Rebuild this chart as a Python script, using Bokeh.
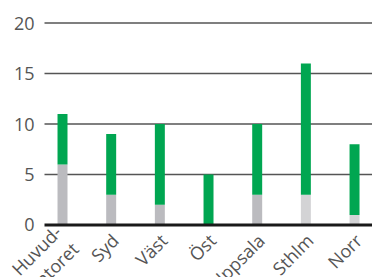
import math
from bokeh.plotting import figure
from bokeh.models import ColumnDataSource, Range1d, FixedTicker
from bokeh.core.properties import value
from bokeh.embed import file_html
from bokeh.resources import INLINE

categories = ["Huvud-\nkontoret", "Syd", "Väst", "Öst", "Uppsala", "Sthlm", "Norr"]
grey_values = [6, 3, 2, 0, 3, 3, 1]
green_values = [5, 6, 8, 5, 7, 13, 7]
grey_colors = ["#BBBBBF", "#BBBBBF", "#BBBBBF", "#BBBBBF", "#BBBBBF", "#D3D3D5", "#D3D3D5"]
y_ticks = [0, 5, 10, 15, 20]

# layout (category slots are 1 unit wide, centred on i + 0.5)
X_START, X_END = -0.774, 6.869
GRID_X0 = 0.13

xpos = [i + 0.5 for i in range(len(categories))]
totals = [g + r for g, r in zip(grey_values, green_values)]
source = ColumnDataSource(data=dict(x=xpos, cat=categories, grey=grey_values,
                                    total=totals, grey_color=grey_colors))

FONT = "Open Sans"
TXT = "#555555"

p = figure(width=372, height=277, output_backend="svg", toolbar_location=None,
           x_range=Range1d(X_START, X_END), y_range=Range1d(-5.2, 21.44),
           min_border_left=0, min_border_right=0, min_border_top=8, min_border_bottom=0)
p.outline_line_color = None
p.background_fill_color = "white"
p.border_fill_color = "white"
p.xaxis.visible = False
p.xgrid.visible = False
p.ygrid.visible = False

# horizontal grid lines
grid_ticks = [t for t in y_ticks if t > 0]
p.segment(x0=[GRID_X0] * len(grid_ticks), x1=[X_END] * len(grid_ticks),
          y0=grid_ticks, y1=grid_ticks, line_color="#555555", line_width=1.6)

p.vbar(x="x", bottom=0, top="grey", width=0.205, source=source,
       fill_color="grey_color", line_color=None)
p.vbar(x="x", bottom="grey", top="total", width=0.205, source=source,
       fill_color="#00A651", line_color=None)

# baseline
p.segment(x0=[GRID_X0], x1=[X_END], y0=[0], y1=[0], line_color="#1a1a1a", line_width=3)

p.yaxis.ticker = FixedTicker(ticks=y_ticks)
p.yaxis.axis_line_color = None
p.yaxis.major_tick_line_color = None
p.yaxis.minor_tick_line_color = None
p.yaxis.major_label_standoff = -40
p.yaxis.major_label_text_font = FONT
p.yaxis.major_label_text_font_size = "18px"
p.yaxis.major_label_text_color = TXT

p.text(x="x", y=-1.2, text="cat", source=source, angle=45, angle_units="deg",
       text_align="right", text_baseline="middle", x_offset=4,
       text_font=value(FONT), text_font_size="18px", text_color=TXT,
       text_line_height=1.0)

open("out.html", "w").write(file_html(p, INLINE))
